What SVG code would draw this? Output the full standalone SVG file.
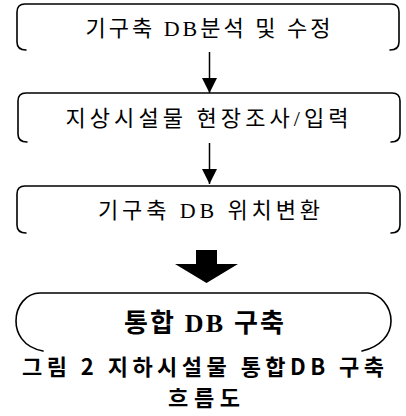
<svg xmlns="http://www.w3.org/2000/svg" width="406" height="416" viewBox="0 0 406 416">
<defs>
<style>
.box{fill:none;stroke:#000;stroke-width:1.6;stroke-linecap:round}
.t{font-family:"Liberation Serif","Noto Sans CJK KR",serif;font-size:22px;fill:#000;text-anchor:middle}
.tb{font-family:"Liberation Serif","Noto Sans CJK KR",serif;font-size:26px;font-weight:bold;fill:#000;text-anchor:middle}
.cap{font-family:"Noto Sans CJK KR","Liberation Sans",sans-serif;font-size:22px;font-weight:bold;fill:#000;text-anchor:middle}
.ln{stroke:#000;stroke-width:1.5;fill:none}
</style>
<marker id="ah" viewBox="0 0 15 15" refX="15" refY="7.5" markerWidth="15" markerHeight="15" markerUnits="userSpaceOnUse" orient="auto">
<path d="M0,0 L15,7.5 L0,15 Z" fill="#000"/>
</marker>
</defs>
<rect width="406" height="416" fill="#fff"/>
<g id="node1">
<path class="box" d="M26,50 Q17,50 17,42 L17,12 Q17,4 25,4 L391,4 Q399,4 399,12 L399,42 Q399,50 390,50"/>
<text class="t" x="208" y="36" textLength="245" lengthAdjust="spacing">기구축 DB분석 및 수정</text>
</g>
<g id="node2">
<path class="box" d="M27,142 Q18,142 18,134 L18,101 Q18,93 26,93 L392,93 Q400,93 400,101 L400,134 Q400,142 391,142"/>
<text class="t" x="207" y="126" textLength="283" lengthAdjust="spacing">지상시설물 현장조사/입력</text>
</g>
<g id="node3">
<path class="box" d="M26,233 Q17,233 17,225 L17,194 Q17,186 25,186 L392,186 Q400,186 400,194 L400,225 Q400,233 391,233"/>
<text class="t" x="209" y="218" textLength="222" lengthAdjust="spacing">기구축 DB 위치변환</text>
</g>
<g id="node4">
<path class="box" d="M43,351 C22,347 16,332 16,321 C16,306 26,293 40,293 L368,293 C380,294 391,306 391,321 C391,335 380,347 362,351"/>
<text class="tb" x="204" y="332" textLength="160" lengthAdjust="spacing">통합 DB 구축</text>
</g>
<g id="caption">
<text class="cap" x="203" y="375" textLength="362" lengthAdjust="spacing">그림 2 지하시설물 통합DB 구축</text>
<text class="cap" x="204" y="406" textLength="72" lengthAdjust="spacing">흐름도</text>
</g>
<g id="connectors">
<line class="ln" x1="209.5" y1="52" x2="209.5" y2="93" marker-end="url(#ah)"/>
<line class="ln" x1="209.5" y1="143" x2="209.5" y2="184" marker-end="url(#ah)"/>
<polygon points="196,250 217,250 217,264 238,264 206.5,283 175,264 196,264" fill="#000"/>
</g>
</svg>
